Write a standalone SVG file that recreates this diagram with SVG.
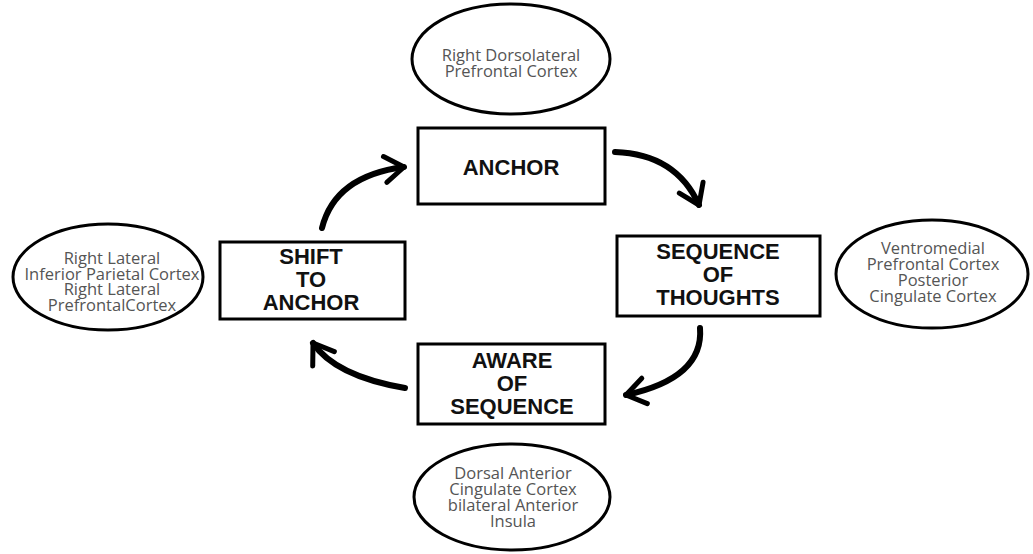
<svg xmlns="http://www.w3.org/2000/svg" width="1033" height="554" viewBox="0 0 1033 554">
<style>
.bg{fill:#ffffff}
.box{fill:#ffffff;stroke:#000;stroke-width:3}
.ell{fill:#ffffff;stroke:#000;stroke-width:3}
.bt{font-family:"Liberation Sans",Arial,sans-serif;font-weight:bold;font-size:22px;fill:#111;text-anchor:middle}
.et{font-family:"Open Sans","Liberation Sans",sans-serif;font-weight:400;font-size:16.5px;fill:#555;text-anchor:middle}
.arr{fill:none;stroke:#000;stroke-width:6;stroke-linecap:round;marker-end:url(#head)}
</style>
<defs>
<marker id="head" markerUnits="userSpaceOnUse" viewBox="-30 -20 40 40" markerWidth="40" markerHeight="40" refX="0" refY="0" orient="auto">
<path d="M -19,-13 L 0,0 L -19,13" fill="none" stroke="#000" stroke-width="5" stroke-linecap="round" stroke-linejoin="round"/>
</marker>
</defs>
<rect class="bg" x="0" y="0" width="1033" height="554"/>
<g id="connectors">
<path class="arr" d="M 322,228 Q 335,176 404,167"/>
<path class="arr" d="M 615,152 Q 676,154 699,205"/>
<path class="arr" d="M 700,328 Q 704,378 626,395"/>
<path class="arr" d="M 405,388 Q 335,376 313,343"/>
</g>
<g id="anchor">
<rect class="box" x="418" y="128" width="187" height="76"/>
<text class="bt" x="511" y="175">ANCHOR</text>
</g>
<g id="sequence-of-thoughts">
<rect class="box" x="617" y="236" width="203" height="80"/>
<text class="bt" x="718" y="259">SEQUENCE</text>
<text class="bt" x="718" y="282">OF</text>
<text class="bt" x="718" y="305">THOUGHTS</text>
</g>
<g id="aware-of-sequence">
<rect class="box" x="418" y="344" width="187" height="80"/>
<text class="bt" x="512" y="368">AWARE</text>
<text class="bt" x="512" y="391">OF</text>
<text class="bt" x="512" y="414">SEQUENCE</text>
</g>
<g id="shift-to-anchor">
<rect class="box" x="220" y="242" width="185" height="77"/>
<text class="bt" x="311" y="264">SHIFT</text>
<text class="bt" x="311" y="287">TO</text>
<text class="bt" x="311" y="310">ANCHOR</text>
</g>
<g id="ellipse-top">
<ellipse class="ell" cx="511" cy="59" rx="99" ry="55"/>
<text class="et" x="511" y="61">Right Dorsolateral</text>
<text class="et" x="511" y="77">Prefrontal Cortex</text>
</g>
<g id="ellipse-left">
<ellipse class="ell" cx="108" cy="277" rx="95" ry="53"/>
<text class="et" x="112" y="264">Right Lateral</text>
<text class="et" x="112" y="280">Inferior Parietal Cortex</text>
<text class="et" x="112" y="295">Right Lateral</text>
<text class="et" x="112" y="311">PrefrontalCortex</text>
</g>
<g id="ellipse-right">
<ellipse class="ell" cx="932" cy="274" rx="96" ry="54"/>
<text class="et" x="933" y="254">Ventromedial</text>
<text class="et" x="933" y="270">Prefrontal Cortex</text>
<text class="et" x="933" y="286">Posterior</text>
<text class="et" x="933" y="302">Cingulate Cortex</text>
</g>
<g id="ellipse-bottom">
<ellipse class="ell" cx="512" cy="497" rx="98" ry="53"/>
<text class="et" x="513" y="479">Dorsal Anterior</text>
<text class="et" x="513" y="495">Cingulate Cortex</text>
<text class="et" x="513" y="511">bilateral Anterior</text>
<text class="et" x="513" y="527">Insula</text>
</g>
</svg>
